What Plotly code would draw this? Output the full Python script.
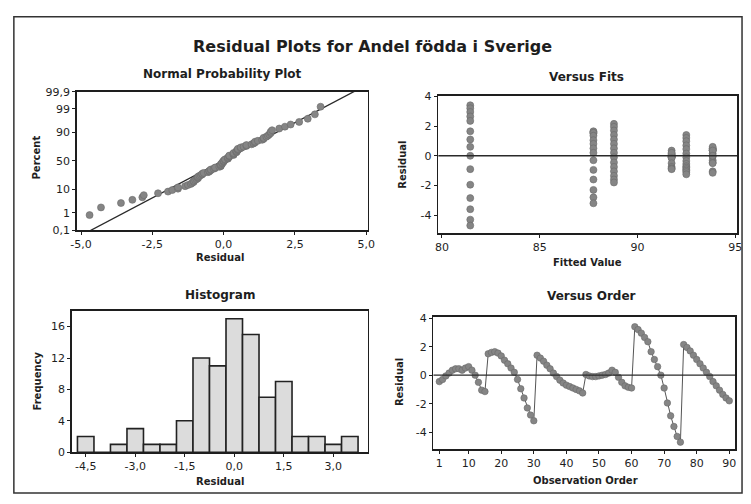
import plotly.graph_objects as go
from statistics import NormalDist, mean, stdev

# ---------------- data ----------------
# residuals in observation order, six blocks of 15 observations
group1 = [-0.45, -0.30, -0.05, 0.15, 0.35, 0.45, 0.45, 0.35, 0.50, 0.60, 0.35, 0.00, -0.50, -1.05, -1.15]
group2 = [1.50, 1.60, 1.65, 1.55, 1.35, 1.05, 0.80, 0.50, 0.20, -0.30, -0.95, -1.60, -2.30, -2.80, -3.20]
group3 = [1.40, 1.20, 0.98, 0.70, 0.45, 0.15, -0.10, -0.35, -0.55, -0.70, -0.80, -0.90, -1.00, -1.10, -1.25]
group4 = [0.05, -0.05, -0.10, -0.10, -0.05, 0.00, 0.05, 0.15, 0.35, 0.20, -0.15, -0.50, -0.75, -0.85, -0.90]
group5 = [3.40, 3.20, 2.95, 2.65, 2.35, 1.65, 1.10, 0.60, 0.00, -0.90, -1.95, -2.85, -3.60, -4.30, -4.70]
group6 = [2.15, 1.95, 1.70, 1.40, 1.10, 0.80, 0.50, 0.20, -0.10, -0.45, -0.75, -1.05, -1.35, -1.60, -1.80]
fitted_levels = [93.85, 87.75, 92.5, 91.75, 81.45, 88.8]

# histogram (bin centres and frequencies)
hist_centers = [-4.5, -4.0, -3.5, -3.0, -2.5, -2.0, -1.5, -1.0, -0.5, 0.0, 0.5, 1.0, 1.5, 2.0, 2.5, 3.0, 3.5]
hist_counts = [2, 0, 1, 3, 1, 1, 4, 12, 11, 17, 15, 7, 9, 2, 2, 1, 2]

# tick labels
npp_x_ticks = [-5.0, -2.5, 0.0, 2.5, 5.0]
npp_x_labels = ["-5,0", "-2,5", "0,0", "2,5", "5,0"]
npp_pct_ticks = [0.1, 1, 10, 50, 90, 99, 99.9]
npp_pct_labels = ["0,1", "1", "10", "50", "90", "99", "99,9"]
fits_x_ticks = [80, 85, 90, 95]
resid_y_ticks = [-4, -2, 0, 2, 4]
resid_y_labels = ["-4", "-2", "0", "2", "4"]
hist_x_ticks = [-4.5, -3.0, -1.5, 0.0, 1.5, 3.0]
hist_x_labels = ["-4,5", "-3,0", "-1,5", "0,0", "1,5", "3,0"]
hist_y_ticks = [0, 4, 8, 12, 16]
order_x_ticks = [1, 10, 20, 30, 40, 50, 60, 70, 80, 90]

# ---------------- derived ----------------
groups = [group1, group2, group3, group4, group5, group6]
residuals = [r for g in groups for r in g]
fitted = [f for f, g in zip(fitted_levels, groups) for _ in g]
observation = list(range(1, len(residuals) + 1))

nd = NormalDist()
n = len(residuals)
sorted_res = sorted(residuals)
npp_z = [nd.inv_cdf((i + 1 - 0.3) / (n + 0.4)) for i in range(n)]
mu, sd = mean(residuals), stdev(residuals)
line_z = [-3.4, 3.4]
line_x = [mu + sd * z for z in line_z]
pct_z = [nd.inv_cdf(p / 100) for p in npp_pct_ticks]

FONT = "DejaVu Sans"
INK = "#1e1e1e"
PT = "#858585"
W, H = 751, 504

def px_x(p):
    return p / W

def px_y(p):
    return 1 - p / H

fig = go.Figure()

MK = dict(size=7, color=PT, line=dict(color="#6a6a6a", width=0.6))

# Normal probability plot
fig.add_trace(go.Scatter(x=line_x, y=line_z, mode="lines", line=dict(color="#2a2a2a", width=1.3),
                         xaxis="x", yaxis="y", hoverinfo="skip"))
fig.add_trace(go.Scatter(x=sorted_res, y=npp_z, mode="markers", marker=MK, xaxis="x", yaxis="y"))
# Versus fits
fig.add_trace(go.Scatter(x=fitted, y=residuals, mode="markers", marker=MK, xaxis="x2", yaxis="y2"))
# Histogram
fig.add_trace(go.Bar(x=hist_centers, y=hist_counts, width=0.5,
                     marker=dict(color="#dcdcdc", line=dict(color="#222222", width=1.6)),
                     xaxis="x3", yaxis="y3"))
# Versus order
fig.add_trace(go.Scatter(x=observation, y=residuals, mode="lines+markers",
                         line=dict(color="#555555", width=1),
                         marker=dict(size=6.5, color=PT, line=dict(color="#6a6a6a", width=0.6)),
                         xaxis="x4", yaxis="y4"))

def axis(domain, rng, tickvals, ticktext=None, anchor=None):
    d = dict(domain=domain, range=rng, tickvals=tickvals, showline=True, mirror=True,
             linecolor=INK, linewidth=1.6, ticks="outside", ticklen=3, tickwidth=1, tickcolor=INK,
             showgrid=False, zeroline=False, tickfont=dict(family=FONT, size=11, color=INK),
             anchor=anchor, fixedrange=True)
    if ticktext is not None:
        d["ticktext"] = ticktext
    return d

dom = {
    "npp": ([px_x(72), px_x(368)], [px_y(230), px_y(88)]),
    "fits": ([px_x(440), px_x(744)], [px_y(233), px_y(92)]),
    "hist": ([px_x(67), px_x(368)], [px_y(458), px_y(313)]),
    "order": ([px_x(435), px_x(742)], [px_y(455), px_y(319)]),
}

fig.update_layout(
    width=W, height=H, margin=dict(l=0, r=0, t=0, b=0),
    paper_bgcolor="white", plot_bgcolor="white", showlegend=False,
    font=dict(family=FONT, color=INK),
    xaxis=axis(dom["npp"][0], [-5.15, 5.05], npp_x_ticks, npp_x_labels, "y"),
    yaxis=axis(dom["npp"][1], [pct_z[0], pct_z[-1]], pct_z, npp_pct_labels, "x"),
    xaxis2=axis(dom["fits"][0], [79.82, 95.1], fits_x_ticks, None, "y2"),
    yaxis2=axis(dom["fits"][1], [-5.2, 4.05], resid_y_ticks, resid_y_labels, "x2"),
    xaxis3=axis(dom["hist"][0], [-4.92, 4.04], hist_x_ticks, hist_x_labels, "y3"),
    yaxis3=axis(dom["hist"][1], [0, 18], hist_y_ticks, None, "x3"),
    xaxis4=axis(dom["order"][0], [-0.8, 91.8], order_x_ticks, None, "y4"),
    yaxis4=axis(dom["order"][1], [-5.2, 4.1], resid_y_ticks, resid_y_labels, "x4"),
)

# zero reference lines
for xa, ya in [("x2", "y2"), ("x4", "y4")]:
    fig.add_shape(type="line", xref=f"{xa} domain", yref=ya, x0=0, x1=1, y0=0, y1=0,
                  line=dict(color="#2a2a2a", width=1.3))

# outer frame
fig.add_shape(type="rect", xref="paper", yref="paper", x0=px_x(8), x1=px_x(749),
              y0=px_y(500), y1=px_y(11), line=dict(color="#333333", width=1.5))

def txt(text, x, y, size, angle=0):
    fig.add_annotation(text=text, x=px_x(x), y=px_y(y), xref="paper", yref="paper",
                       showarrow=False, textangle=angle, xanchor="center", yanchor="middle",
                       font=dict(family=FONT, size=size, color=INK, weight="bold"))

txt("Residual Plots for Andel födda i Sverige", 373, 42, 16)
txt("Normal Probability Plot", 220, 70, 12)
txt("Versus Fits", 591, 73, 12)
txt("Histogram", 218, 297, 12)
txt("Versus Order", 596, 298, 12)
txt("Residual", 218, 258, 10)
txt("Percent", 31, 155, 10, -90)
txt("Fitted Value", 592, 263, 10)
txt("Residual", 404, 163, 10, -90)
txt("Residual", 218, 488, 10)
txt("Frequency", 32, 385, 10, -90)
txt("Observation Order", 590, 487, 10)
txt("Residual", 400, 386, 10, -90)

fig.write_html("out.html", config={"displayModeBar": False, "staticPlot": True},
               post_script="document.body.style.margin='0px';document.body.style.overflow='hidden';")
